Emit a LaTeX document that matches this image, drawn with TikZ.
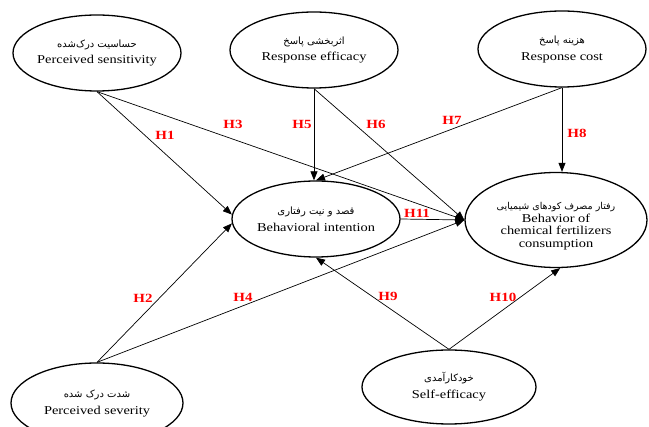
\documentclass[tikz,border=0pt]{standalone}
\usepackage{fontspec}
\setmainfont{Liberation Serif}[FakeStretch=1.2]
\newfontfamily\farsifont[Script=Arabic]{DejaVu Sans}
\TeXXeTstate=1
\usetikzlibrary{shapes.geometric, arrows.meta}
\newcommand{\fatext}[1]{{\farsifont\fontsize{10}{11}\selectfont\beginR #1\endR}}
\tikzset{
  % Constructs
  construct/.style = { draw, ellipse, line width=1.3pt, inner sep=0pt,
                        minimum width=168pt, minimum height=76pt },
  ctext/.style     = { align=center, font=\fontsize{12}{14}\selectfont },
  % Hypotheses
  hyparrow/.style  = { line width=0.7pt, -{Triangle[length=9pt, width=7pt]} },
  hyplabel/.style  = { text=red, font=\fontsize{12.5}{14}\selectfont\bfseries }
}

\begin{document}
\begin{tikzpicture}[x=1pt, y=-1pt]
  \useasboundingbox (0,0) rectangle (649,427);

  \node[construct] (ps) at (97,53) {};
  \node[construct] (re) at (314,50) {};
  \node[construct] (rc) at (562,49) {};
  \node[construct] (bi) at (316,219) {};
  \node[construct, minimum width=182pt, minimum height=95pt] (bc) at (556,220) {};
  \node[construct, minimum width=172pt, minimum height=80pt] (psev) at (97,403) {};
  \node[construct, minimum width=174pt, minimum height=74pt] (se) at (449,387) {};

  \node[ctext] (ps-t) at (ps) {\fatext{حساسیت درک‌شده}\\[3pt]Perceived sensitivity};
  \node[ctext] (re-t) at (re) {\fatext{اثربخشی پاسخ}\\[3pt]Response efficacy};
  \node[ctext] (rc-t) at (rc) {\fatext{هزینه پاسخ}\\[3pt]Response cost};
  \node[ctext] (bi-t) at (bi) {\fatext{قصد و نیت رفتاری}\\[3pt]Behavioral intention};
  \node[ctext, font=\fontsize{12}{12.5}\selectfont] (bc-t) at ([yshift=-6pt]bc) {{\farsifont\fontsize{9.5}{11}\selectfont\beginR رفتار مصرف کودهای شیمیایی\endR}\\Behavior of\\chemical fertilizers\\consumption};
  \node[ctext] (psev-t) at (psev) {\fatext{شدت درک شده}\\[3pt]Perceived severity};
  \node[ctext] (se-t) at (se) {\fatext{خودکارآمدی}\\[3pt]Self-efficacy};

  \draw[hyparrow] (ps.south) -- (bi.177);
  \draw[hyparrow] (ps.south) -- (bc.west);
  \draw[hyparrow] (re.south) -- (re.south |- bi.north);
  \draw[hyparrow] (re.south) -- (bc.west);
  \draw[hyparrow] (rc.south) -- (bi.north);
  \draw[hyparrow] (rc.south) -- (rc.south |- bc.north);
  \draw[hyparrow] (bi.east) -- (bc.west);
  \draw[hyparrow] (psev.north) -- (bi.183);
  \draw[hyparrow] (psev.north) -- (bc.west);
  \draw[hyparrow] (se.north) -- (bi.south);
  \draw[hyparrow] (se.north) -- (bc.-85);

  \node[hyplabel] (h1) at (165,135) {H1};
  \node[hyplabel] (h3) at (233,124) {H3};
  \node[hyplabel] (h5) at (302,124) {H5};
  \node[hyplabel] (h6) at (376,124) {H6};
  \node[hyplabel] (h7) at (452,120) {H7};
  \node[hyplabel] (h8) at (577,133) {H8};
  \node[hyplabel] (h11) at (417,213) {H11};
  \node[hyplabel] (h2) at (143,298) {H2};
  \node[hyplabel] (h4) at (243,297) {H4};
  \node[hyplabel] (h9) at (388,296) {H9};
  \node[hyplabel] (h10) at (503,297) {H10};

\end{tikzpicture}
\end{document}
